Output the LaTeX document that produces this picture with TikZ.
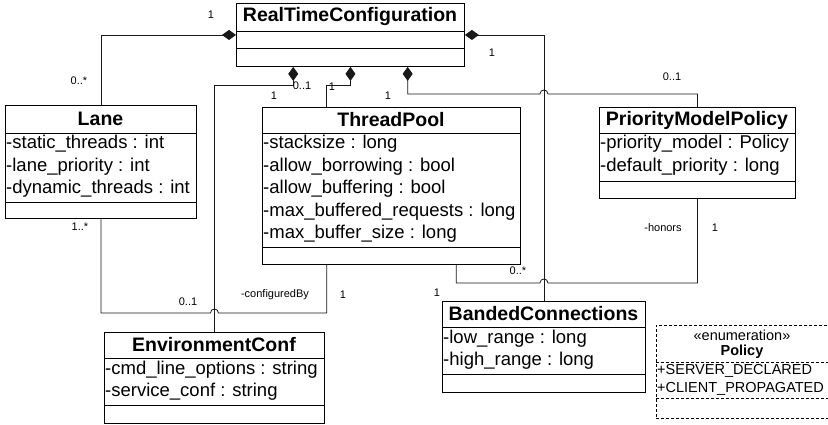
\documentclass[tikz,border=0pt]{standalone}
\usepackage{fontspec}
\setmainfont{Liberation Sans}
\usetikzlibrary{arrows.meta,calc}
\begin{document}
\begin{tikzpicture}[x=1pt,y=-1pt,
  cls/.style={draw=black,line width=0.9pt,inner sep=0pt,anchor=north west},
  sepline/.style={draw=black,line width=0.9pt},
  ttl/.style={font=\fontsize{19.5}{22}\selectfont\bfseries,inner sep=0pt},
  attr/.style={font=\fontsize{18.5}{22}\selectfont,inner sep=0pt,anchor=west,text height=13pt,text depth=4pt},
  enumtxt/.style={font=\fontsize{14.5}{17}\selectfont,inner sep=0pt},
  lbl/.style={font=\fontsize{11}{13}\selectfont,inner sep=0pt},
  conn/.style={line width=0.8pt,draw=black!90},
  comp/.style={conn,{Diamond[length=14pt,width=10pt]}-},
]
\clip (0,0) rectangle (828,425);
\fill[white] (0,0) rectangle (828,425);

% ---------- classes ----------
\node[cls,minimum width=228pt,minimum height=63pt] (rtc) at (236,3) {};
\draw[sepline] (rtc.west |- 0,31) -- (rtc.east |- 0,31);
\draw[sepline] (rtc.west |- 0,48) -- (rtc.east |- 0,48);
\node[ttl] (rtcT) at (350,17) {RealTimeConfiguration};

\node[cls,minimum width=191pt,minimum height=113pt] (lane) at (5,105) {};
\draw[sepline] (lane.west |- 0,133) -- (lane.east |- 0,133);
\draw[sepline] (lane.west |- 0,202) -- (lane.east |- 0,202);
\node[ttl] (laneT) at (100.5,119) {Lane};
\node[attr] (lane1) at (6,144.25) {-static\_threads : int};
\node[attr] (lane2) at (6,166.75) {-lane\_priority : int};
\node[attr] (lane3) at (6,189.25) {-dynamic\_threads : int};

\node[cls,minimum width=258pt,minimum height=157pt] (tp) at (262,107) {};
\draw[sepline] (tp.west |- 0,133) -- (tp.east |- 0,133);
\draw[sepline] (tp.west |- 0,247) -- (tp.east |- 0,247);
\node[ttl] (tpT) at (391,120) {ThreadPool};
\node[attr] (tp1) at (263,144.25) {-stacksize : long};
\node[attr] (tp2) at (263,166.75) {-allow\_borrowing : bool};
\node[attr] (tp3) at (263,189.25) {-allow\_buffering : bool};
\node[attr] (tp4) at (263,211.75) {-max\_buffered\_requests : long};
\node[attr] (tp5) at (263,234.25) {-max\_buffer\_size : long};

\node[cls,minimum width=196pt,minimum height=91pt] (pmp) at (599,107) {};
\draw[sepline] (pmp.west |- 0,133) -- (pmp.east |- 0,133);
\draw[sepline] (pmp.west |- 0,181) -- (pmp.east |- 0,181);
\node[ttl] (pmpT) at (697,120) {PriorityModelPolicy};
\node[attr] (pmp1) at (600,144.25) {-priority\_model : Policy};
\node[attr] (pmp2) at (600,166.75) {-default\_priority : long};

\node[cls,minimum width=220pt,minimum height=91pt] (env) at (104,332) {};
\draw[sepline] (env.west |- 0,358) -- (env.east |- 0,358);
\draw[sepline] (env.west |- 0,405) -- (env.east |- 0,405);
\node[ttl] (envT) at (214,345) {EnvironmentConf};
\node[attr] (env1) at (105,369.5) {-cmd\_line\_options : string};
\node[attr] (env2) at (105,392) {-service\_conf : string};

\node[cls,minimum width=203pt,minimum height=91pt] (bc) at (442,301) {};
\draw[sepline] (bc.west |- 0,327) -- (bc.east |- 0,327);
\draw[sepline] (bc.west |- 0,374) -- (bc.east |- 0,374);
\node[ttl] (bcT) at (543.5,314) {BandedConnections};
\node[attr] (bc1) at (443,338.5) {-low\_range : long};
\node[attr] (bc2) at (443,361) {-high\_range : long};

% ---------- enumeration ----------
\node[cls,dash pattern=on 3pt off 2pt,line width=0.8pt,minimum width=174pt,minimum height=93pt] (pol) at (656,325) {};
\draw[line width=0.8pt,dash pattern=on 3pt off 2pt] (pol.west |- 0,362) -- (pol.east |- 0,362);
\draw[line width=0.8pt,dash pattern=on 3pt off 2pt] (pol.west |- 0,398) -- (pol.east |- 0,398);
\node[enumtxt] (polS) at (742,335) {«enumeration»};
\node[enumtxt,font=\fontsize{14.5}{17}\selectfont\bfseries] (polT) at (742,352) {Policy};
\node[enumtxt,anchor=west] (pol1) at (657,371) {+SERVER\_DECLARED};
\node[enumtxt,anchor=west] (pol2) at (657,389) {+CLIENT\_PROPAGATED};

% ---------- helper coordinates ----------
\coordinate (d1) at ($(rtc.south west)!0.25!(rtc.south east)$);
\coordinate (d3) at ($(rtc.south west)!0.75!(rtc.south east)$);
\coordinate (tpTop) at ($(tp.north west)!0.25!(tp.north east)$);
\coordinate (tpB1) at ($(tp.south west)!0.25!(tp.south east)$);
\coordinate (tpB2) at ($(tp.south west)!0.75!(tp.south east)$);
\coordinate (h1) at (bc.north |- 0,94);
\coordinate (h2) at (bc.north |- 0,283);
\coordinate (h3) at (env.north |- 0,313);

% ---------- connectors ----------
\draw[comp] (rtc.west) -| (lane.north);
\draw[comp] (rtc.east) -| (bc.north);
\draw[comp] (d1) -- (d1 |- 0,85) -| (env.north);
\draw[comp] (rtc.south) -- (rtc.south |- 0,85) -| (tpTop);
\draw[comp] (d3) -- (d3 |- 0,94) -- ($(h1)+(-4,0)$)
  .. controls ($(h1)+(-4,-5.3)$) and ($(h1)+(4,-5.3)$) .. ($(h1)+(4,0)$)
  -| (pmp.north);
\draw[conn] (tpB2) |- ($(h2)+(-4,0)$)
  .. controls ($(h2)+(-4,-5.3)$) and ($(h2)+(4,-5.3)$) .. ($(h2)+(4,0)$)
  -| (pmp.south);
\draw[conn] (lane.south) |- ($(h3)+(-4,0)$)
  .. controls ($(h3)+(-4,-5.3)$) and ($(h3)+(4,-5.3)$) .. ($(h3)+(4,0)$)
  -| (tpB1);

% ---------- labels ----------
\node[lbl] (l1) at (211,15) {1};
\node[lbl] (l2) at (79,81) {0..*};
\node[lbl] (l3) at (492,53) {1};
\node[lbl] (l4) at (302,86) {0..1};
\node[lbl] (l5) at (274,96) {1};
\node[lbl] (l6) at (332,87) {1};
\node[lbl] (l7) at (388,96) {1};
\node[lbl] (l8) at (672,77) {0..1};
\node[lbl] (l9) at (80,227) {1..*};
\node[lbl] (l10) at (188,302) {0..1};
\node[lbl] (l11) at (275,295) {-configuredBy};
\node[lbl] (l12) at (343,295) {1};
\node[lbl] (l13) at (518,271) {0..*};
\node[lbl] (l14) at (437,293) {1};
\node[lbl] (l15) at (663,228) {-honors};
\node[lbl] (l16) at (715,228) {1};
\end{tikzpicture}
\end{document}
